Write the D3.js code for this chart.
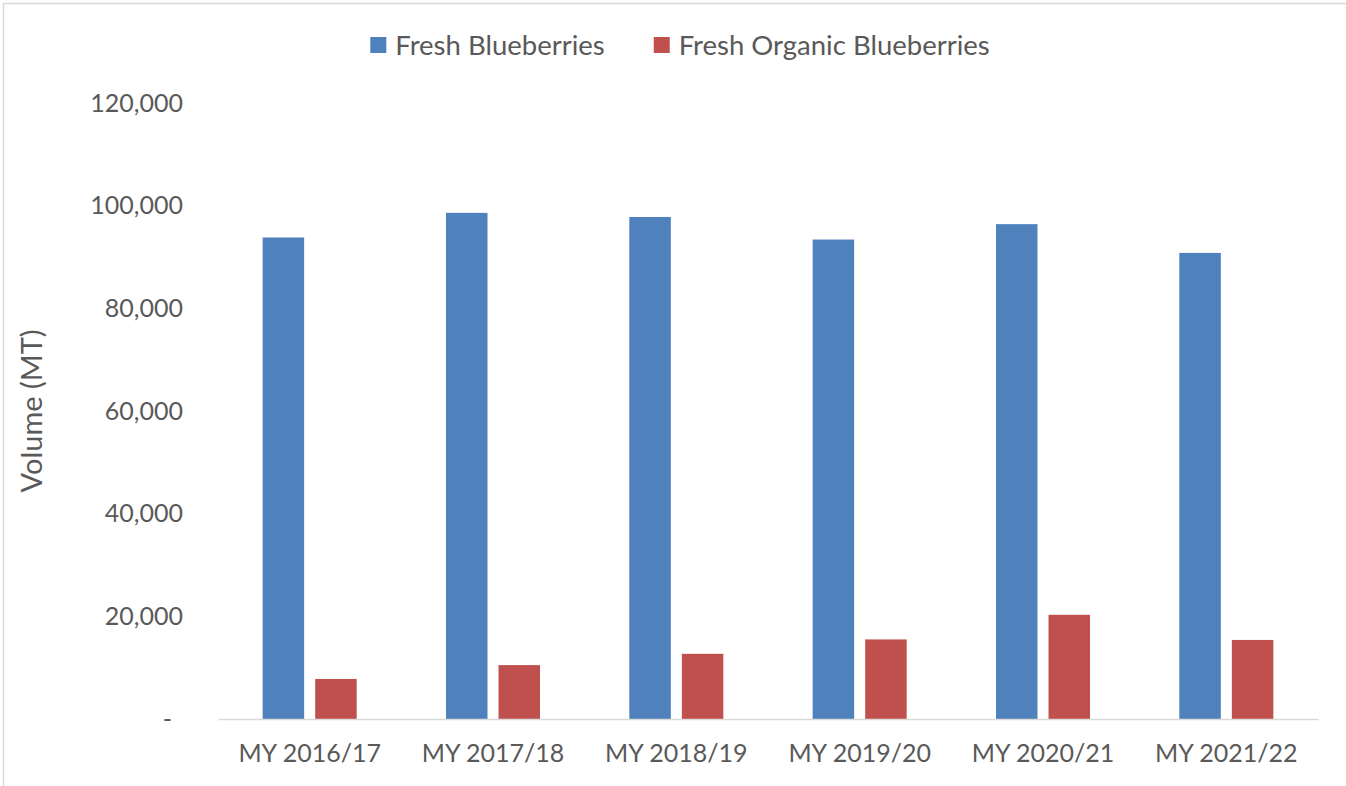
<!DOCTYPE html>
<html>
<head>
<meta charset="utf-8">
<script src="https://cdn.jsdelivr.net/npm/d3@7"></script>
<style>
  body { margin: 0; background: #fff; }
  svg text { font-family: Lato, "Open Sans", sans-serif; fill: #595959; }
</style>
</head>
<body>
<div id="main"></div>
<script>
// chart data
const years = ["MY 2016/17", "MY 2017/18", "MY 2018/19", "MY 2019/20", "MY 2020/21", "MY 2021/22"];
const seriesNames = ["Fresh Blueberries", "Fresh Organic Blueberries"];
const fresh = [93800, 98600, 97800, 93400, 96400, 90800];
const organic = [7800, 10500, 12700, 15500, 20300, 15400];
const yTicks = [0, 20000, 40000, 60000, 80000, 100000, 120000];
const colors = ["#4f81bd", "#c0504d"];

const w = 1346, h = 786;
const plotLeft = 218, plotRight = 1318, plotTop = 103, plotBottom = 719;

const svg = d3.select("#main").append("svg")
  .attr("width", w).attr("height", h);

// outer chart frame (only top/left visible)
svg.append("rect")
  .attr("x", 3.5).attr("y", 3.5)
  .attr("width", w + 20).attr("height", h + 20)
  .attr("fill", "none").attr("stroke", "#d9d9d9").attr("stroke-width", 1.5);

const x0 = d3.scaleBand().domain(years).range([plotLeft, plotRight]);
const x1 = d3.scaleBand().domain(seriesNames).range([0, x0.bandwidth()])
  .paddingInner(0.21).paddingOuter(0.85);
const y = d3.scaleLinear().domain([0, 120000]).range([plotBottom, plotTop]);

const rows = years.map((yr, i) => ({ year: yr, vals: [fresh[i], organic[i]] }));

// bars
const groups = svg.selectAll("g.grp").data(rows).enter().append("g")
  .attr("class", "grp")
  .attr("transform", d => "translate(" + x0(d.year) + ",0)");

groups.selectAll("rect")
  .data(d => d.vals.map((v, k) => ({ name: seriesNames[k], v: v, k: k })))
  .enter().append("rect")
  .attr("x", d => x1(d.name))
  .attr("width", x1.bandwidth())
  .attr("y", d => y(d.v))
  .attr("height", d => plotBottom - y(d.v))
  .attr("fill", d => colors[d.k]);

// y axis
const yAxis = d3.axisLeft(y).tickValues(yTicks).tickSize(0).tickPadding(0)
  .tickFormat(d => d === 0 ? "-" : d3.format(",")(d));
const gy = svg.append("g")
  .attr("transform", "translate(183,0)")
  .call(yAxis);
gy.select(".domain").remove();
gy.selectAll("text")
  .style("font-size", "25px").attr("fill", "#595959")
  .attr("dx", d => d === 0 ? -11 : 0);

// x axis
const xAxis = d3.axisBottom(x0).tickSize(0).tickPadding(25);
const gx = svg.append("g")
  .attr("transform", "translate(0," + plotBottom + ")")
  .call(xAxis);
gx.select(".domain").attr("stroke", "#d9d9d9").attr("stroke-width", 1.5);
gx.selectAll("text").style("font-size", "25px").attr("fill", "#595959");

// axis title
svg.append("text")
  .attr("transform", "translate(32,411) rotate(-90)")
  .attr("text-anchor", "middle")
  .attr("dy", "0.35em")
  .style("font-size", "29px")
  .text("Volume (MT)");

// legend
const legend = svg.append("g");
let lx = 0;
seriesNames.forEach((name, k) => {
  legend.append("rect")
    .attr("x", lx).attr("y", 37)
    .attr("width", 16).attr("height", 16)
    .attr("fill", colors[k]);
  const t = legend.append("text")
    .attr("x", lx + 25).attr("y", 45).attr("dy", "0.35em")
    .style("font-size", "27.5px")
    .text(name);
  lx += 25 + t.node().getComputedTextLength() + 49;
});
const lw = lx - 49;
legend.attr("transform", "translate(" + (680 - lw / 2) + ",0)");
</script>
</body>
</html>
